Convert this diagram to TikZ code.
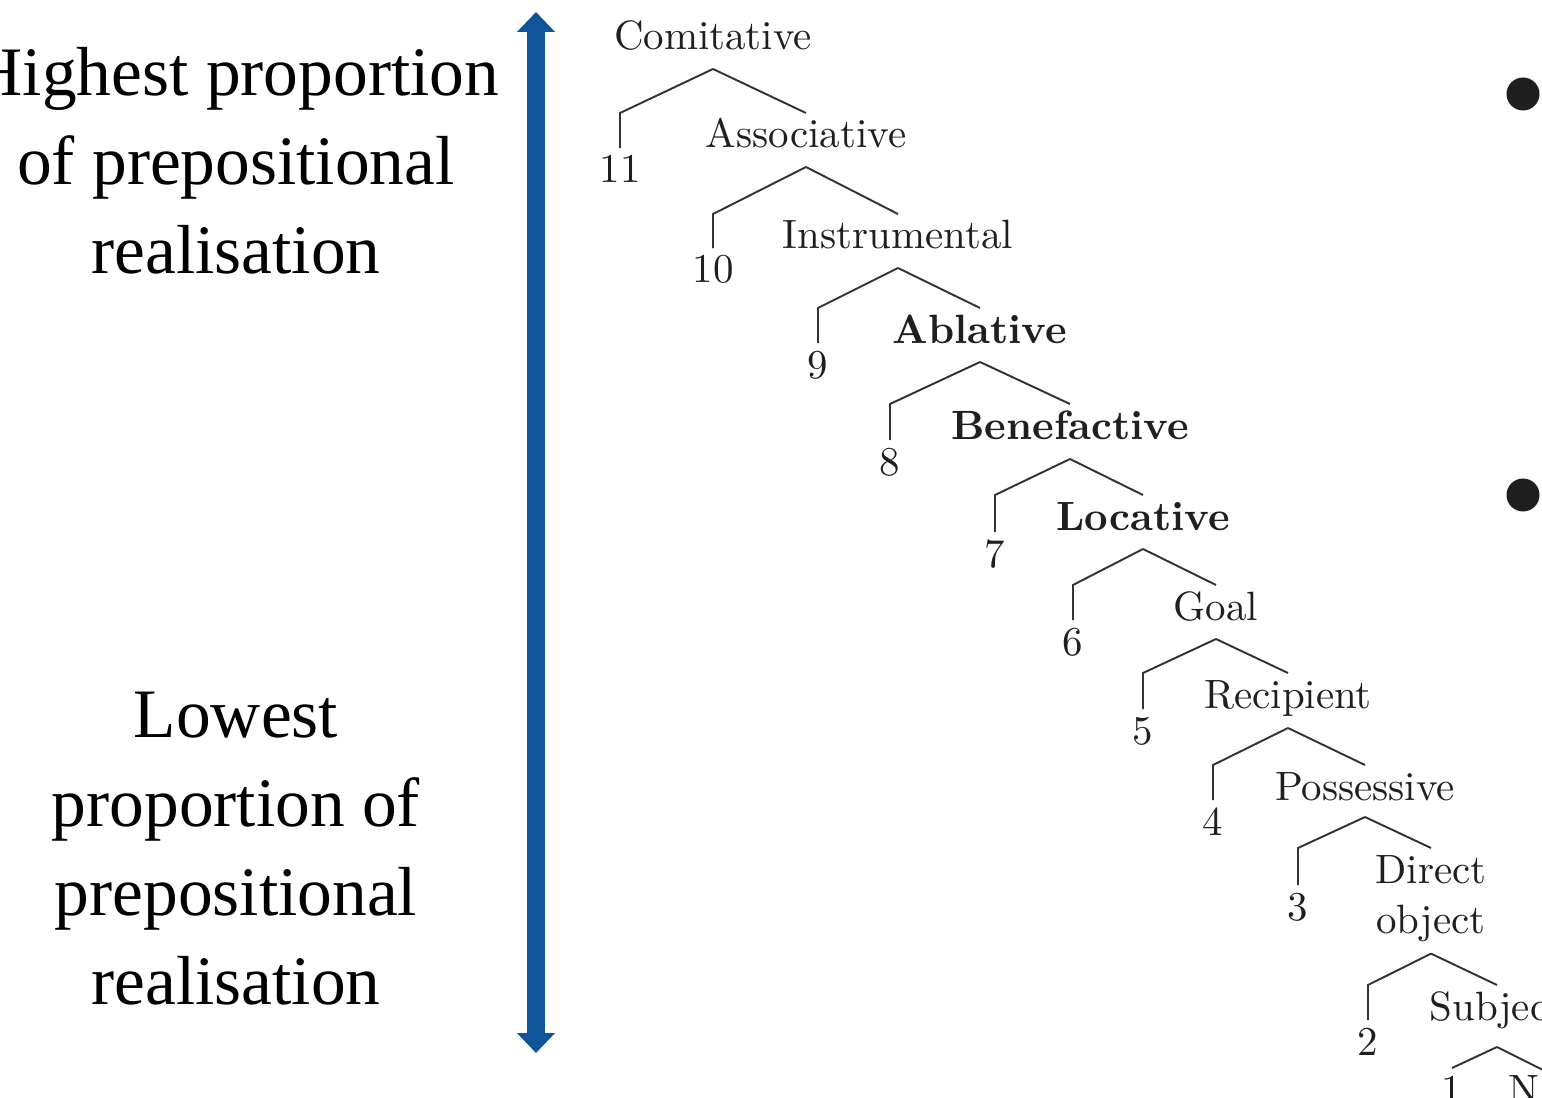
\documentclass[tikz,border=0pt]{standalone}
\usepackage{fontspec}
\usetikzlibrary{positioning,arrows.meta,calc}
\newfontfamily\treefont{lmroman10-regular.otf}[BoldFont=lmroman10-bold.otf]
\newfontfamily\sidefont{Liberation Serif}
\definecolor{scaleblue}{RGB}{16,84,153}
\tikzset{
    role/.style = {
        font=\treefont\fontsize{23.3}{28.5}\selectfont,
        text=black!88,
        inner sep=0pt,
        anchor=base
    },
    rank/.style = {
        role
    },
    branch/.style = {
        draw=black!80,
        line width=1.1pt
    },
    side/.style = {
        font=\sidefont\fontsize{39.5}{50.6}\selectfont,
        align=center,
        inner sep=0pt,
        anchor=north
    },
    scalearrow/.style = {
        draw=scaleblue,
        line width=0.36cm,
        {Triangle[width=0.74cm,length=0.4cm]}-{Triangle[width=0.74cm,length=0.4cm]}
    },
    bullet/.style = {
        circle,
        fill=black!88,
        minimum size=0.66cm,
        inner sep=0pt
    },
}

\begin{document}
\begin{tikzpicture}[x=0.02cm, y=-0.02cm]
    \useasboundingbox (0,0) rectangle (1542,1098);
    \clip (0,0) rectangle (1542,1098);

    % scale
    \node[side] (high) at (236,47) {Highest proportion\\of prepositional\\realisation};
    \node[side] (low) at (236,692) {Lowest\\proportion of\\prepositional\\realisation};
    \coordinate (top) at (536,12);
    \coordinate (bottom) at (536,1053);
    \draw[scalearrow] (bottom) -- (top);

    % roles
    \node[role] (comit) at (713,50) {Comitative};
    \node[role] (assoc) at (806,148) {Associative};
    \node[role] (instr) at (898,249) {Instrumental};
    \node[role] (ablat) at (980,343) {\bfseries Ablative};
    \node[role] (benef) at (1070,439) {\bfseries Benefactive};
    \node[role] (locat) at (1143,530) {\bfseries Locative};
    \node[role] (goal) at (1216,620) {Goal};
    \node[role] (recip) at (1288,708) {Recipient};
    \node[role] (poss) at (1365,800) {Possessive};
    \node[role, align=center, anchor=north] (dobj) at (1431,855) {Direct\\object};
    \node[role] (subj) at (1497,1020) {Subject};

    % ranks
    \node[rank] (r11) at (620,183) {11};
    \node[rank] (r10) at (713,283) {10};
    \node[rank] (r9) at (818,378) {9};
    \node[rank] (r8) at (890,475) {8};
    \node[rank] (r7) at (995,567) {7};
    \node[rank] (r6) at (1073,655) {6};
    \node[rank] (r5) at (1143,744) {5};
    \node[rank] (r4) at (1213,835) {4};
    \node[rank] (r3) at (1298,920) {3};
    \node[rank] (r2) at (1368,1055) {2};
    \node[rank] (r1) at (1452,1103) {1};
    \node[rank, anchor=base west] (nleaf) at (1508,1103) {N};
    \coordinate (nright) at (1545,1071);

    % branches
    \draw[branch] ([yshift=-0.38cm]comit.base) coordinate (comit-a) -- ([yshift=0.7cm]assoc.base) coordinate (assoc-t);
    \draw[branch] (comit-a) -- (r11.base |- assoc-t) -- ([yshift=0.7cm]r11.base);
    \draw[branch] ([yshift=-0.38cm]assoc.base) coordinate (assoc-a) -- ([yshift=0.7cm]instr.base) coordinate (instr-t);
    \draw[branch] (assoc-a) -- (r10.base |- instr-t) -- ([yshift=0.7cm]r10.base);
    \draw[branch] ([yshift=-0.38cm]instr.base) coordinate (instr-a) -- ([yshift=0.7cm]ablat.base) coordinate (ablat-t);
    \draw[branch] (instr-a) -- (r9.base |- ablat-t) -- ([yshift=0.7cm]r9.base);
    \draw[branch] ([yshift=-0.38cm]ablat.base) coordinate (ablat-a) -- ([yshift=0.7cm]benef.base) coordinate (benef-t);
    \draw[branch] (ablat-a) -- (r8.base |- benef-t) -- ([yshift=0.7cm]r8.base);
    \draw[branch] ([yshift=-0.4cm]benef.base) coordinate (benef-a) -- ([yshift=0.7cm]locat.base) coordinate (locat-t);
    \draw[branch] (benef-a) -- (r7.base |- locat-t) -- ([yshift=0.7cm]r7.base);
    \draw[branch] ([yshift=-0.38cm]locat.base) coordinate (locat-a) -- ([yshift=0.7cm]goal.base) coordinate (goal-t);
    \draw[branch] (locat-a) -- (r6.base |- goal-t) -- ([yshift=0.7cm]r6.base);
    \draw[branch] ([yshift=-0.38cm]goal.base) coordinate (goal-a) -- ([yshift=0.7cm]recip.base) coordinate (recip-t);
    \draw[branch] (goal-a) -- (r5.base |- recip-t) -- ([yshift=0.7cm]r5.base);
    \draw[branch] ([yshift=-0.4cm]recip.base) coordinate (recip-a) -- ([yshift=0.7cm]poss.base) coordinate (poss-t);
    \draw[branch] (recip-a) -- (r4.base |- poss-t) -- ([yshift=0.7cm]r4.base);
    \draw[branch] ([yshift=-0.34cm]poss.base) coordinate (poss-a) -- ([yshift=0.14cm]dobj.north) coordinate (dobj-t);
    \draw[branch] (poss-a) -- (r3.base |- dobj-t) -- ([yshift=0.7cm]r3.base);
    \draw[branch] ([yshift=-0.23cm]dobj.south) coordinate (dobj-a) -- ([yshift=0.7cm]subj.base) coordinate (subj-t);
    \draw[branch] (dobj-a) -- (r2.base |- subj-t) -- ([yshift=0.7cm]r2.base);
    \draw[branch] ([yshift=-0.54cm]subj.base) coordinate (subj-a) -- (nright);
    \draw[branch] (subj-a) -- ([yshift=0.7cm]r1.base);

    % bullets
    \node[bullet] (dot1) at (1523,94) {};
    \node[bullet] (dot2) at (1523,495) {};
\end{tikzpicture}
\end{document}
